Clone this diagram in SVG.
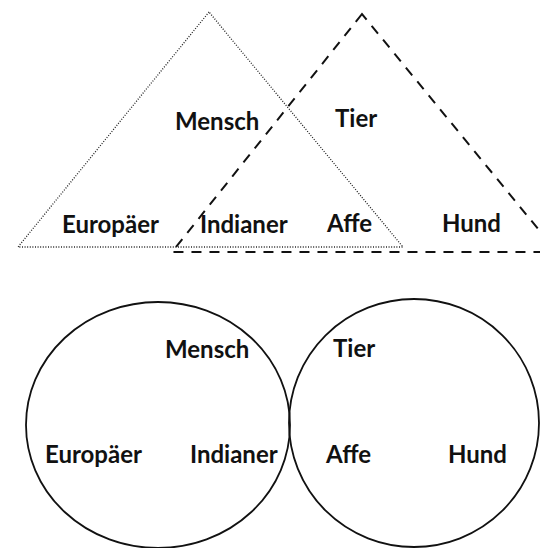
<svg xmlns="http://www.w3.org/2000/svg" width="540" height="548" viewBox="0 0 540 548">
<style>
.lbl{font-family:Lato,"Liberation Sans",sans-serif;font-size:24px;fill:#111;font-weight:bold}
.dot{fill:none;stroke:#222;stroke-width:1.3;stroke-dasharray:1 1.6}
.dash{fill:none;stroke:#111;stroke-width:2;stroke-dasharray:10 8}
.solid{fill:none;stroke:#111;stroke-width:1.8}
</style>
<rect width="540" height="548" fill="#fff"/>
<g id="connectors">
<polygon id="tri-mensch" class="dot" points="209,12 18,247 403,247"/>
<polygon id="tri-tier" class="dash" points="362,14 172,252 557,252"/>
<ellipse id="circle-mensch" class="solid" cx="158" cy="425" rx="132" ry="123"/>
<ellipse id="circle-tier" class="solid" cx="414" cy="423" rx="125" ry="124"/>
</g>
<g id="top">
<g id="t-mensch"><text class="lbl" x="175" y="130">Mensch</text></g>
<g id="t-tier"><text class="lbl" x="335" y="127">Tier</text></g>
<g id="t-europaeer"><text class="lbl" x="62" y="233">Europäer</text></g>
<g id="t-indianer"><text class="lbl" x="200" y="233">Indianer</text></g>
<g id="t-affe"><text class="lbl" x="327" y="232">Affe</text></g>
<g id="t-hund"><text class="lbl" x="442" y="232">Hund</text></g>
</g>
<g id="bottom">
<g id="b-mensch"><text class="lbl" x="165" y="358">Mensch</text></g>
<g id="b-tier"><text class="lbl" x="333" y="357">Tier</text></g>
<g id="b-europaeer"><text class="lbl" x="45" y="463">Europäer</text></g>
<g id="b-indianer"><text class="lbl" x="190" y="463">Indianer</text></g>
<g id="b-affe"><text class="lbl" x="326" y="463">Affe</text></g>
<g id="b-hund"><text class="lbl" x="448" y="463">Hund</text></g>
</g>
</svg>
